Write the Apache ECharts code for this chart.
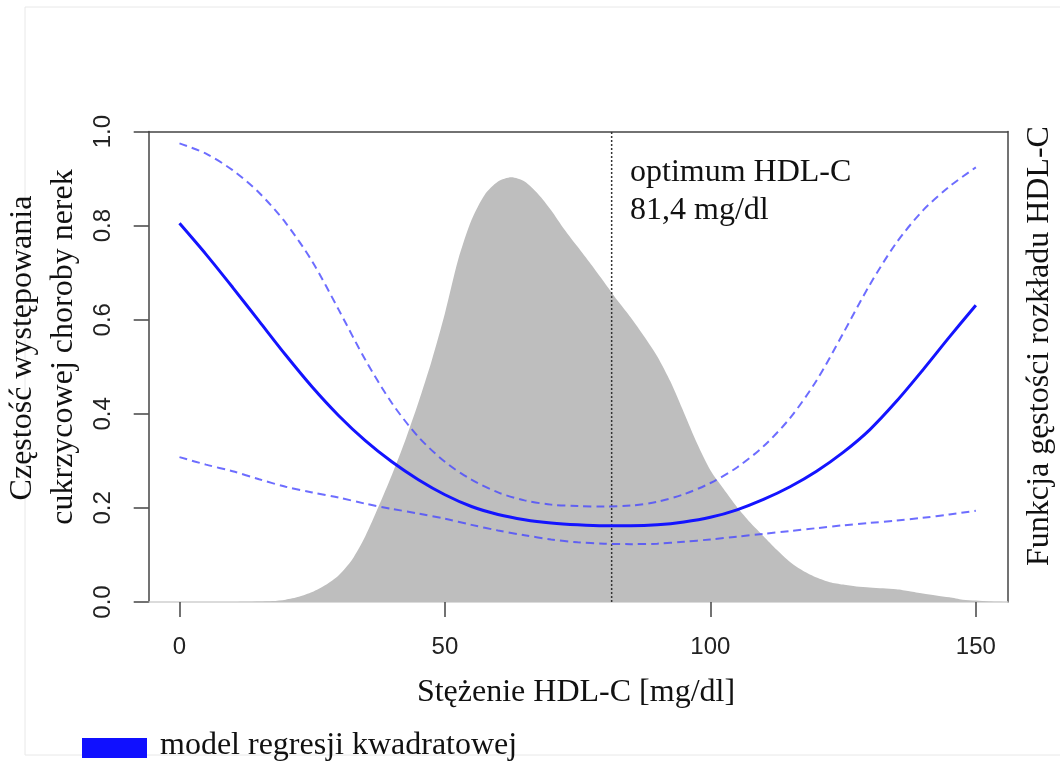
<!DOCTYPE html>
<html>
<head>
<meta charset="utf-8">
<script src="https://cdn.jsdelivr.net/npm/echarts@6/dist/echarts.min.js"></script>
<style>html,body{margin:0;padding:0;background:#fff}#c{width:1060px;height:767px}</style>
</head>
<body>
<div id="c"></div>
<script>
// ---- data ----
const xTicks = [0, 50, 100, 150];
const yTicks = [0, 0.2, 0.4, 0.6, 0.8, 1.0];

const fitX = [0,5,10,15,20,25,30,35,40,45,50,55,60,65,70,75,80,85,90,95,100,105,110,115,120,125,130,135,140,145,150];
const fitY = [0.805,0.739,0.669,0.597,0.525,0.457,0.396,0.343,0.298,0.260,0.228,0.203,0.186,0.175,0.168,0.164,0.162,0.162,0.164,0.170,0.180,0.196,0.218,0.245,0.278,0.318,0.366,0.426,0.493,0.563,0.631];
const upperY = [0.975,0.953,0.918,0.870,0.806,0.724,0.621,0.515,0.423,0.351,0.298,0.260,0.233,0.216,0.207,0.204,0.203,0.205,0.213,0.229,0.253,0.286,0.331,0.391,0.471,0.571,0.674,0.763,0.832,0.883,0.924];
const lowerY = [0.308,0.292,0.278,0.261,0.245,0.233,0.222,0.209,0.198,0.188,0.177,0.164,0.152,0.142,0.133,0.127,0.124,0.123,0.124,0.128,0.133,0.139,0.145,0.151,0.157,0.163,0.168,0.173,0.179,0.186,0.194];

const densX = [10,12.5,15,17.5,20,22.5,25,27.5,30,32.5,35,37.5,40,42.5,45,47.5,50,52.5,55,57.5,60,62.5,65,67.5,70,72.5,75,77.5,80,82.5,85,87.5,90,92.5,95,97.5,100,102.5,105,107.5,110,112.5,115,117.5,120,122.5,125,127.5,130,132.5,135,137.5,140,142.5,145,147.5,150,152.5,156];
const densY = [0,0.0005,0.001,0.002,0.005,0.011,0.021,0.036,0.057,0.090,0.140,0.203,0.270,0.343,0.424,0.513,0.614,0.728,0.812,0.866,0.894,0.903,0.894,0.868,0.833,0.792,0.755,0.718,0.680,0.641,0.605,0.565,0.522,0.468,0.403,0.337,0.280,0.240,0.202,0.169,0.140,0.111,0.085,0.066,0.052,0.042,0.037,0.033,0.031,0.029,0.027,0.023,0.018,0.014,0.010,0.005,0.003,0.001,0];

const optimumX = 81.4;
const optimumLabel = ['optimum HDL-C', '81,4 mg/dl'];
const xTitle = 'Stężenie HDL-C [mg/dl]';
const yTitleLines = ['Częstość występowania', 'cukrzycowej choroby nerek'];
const y2Title = 'Funkcja gęstości rozkładu HDL-C';
const legendLabel = 'model regresji kwadratowej';

const pairs = (xs, ys) => xs.map((x, i) => [x, ys[i]]);

const SERIF = '"Liberation Serif", "Times New Roman", serif';
const SANS = '"Liberation Sans", Arial, sans-serif';

const chart = echarts.init(document.getElementById('c'), null, {renderer: 'canvas'});
const gridL = 148.7, gridR = 1060 - 1007.7, gridT = 131.6, gridB = 767 - 602;

function txt(x, y, text, rot, align) {
  return {
    type: 'text', x: x, y: y, rotation: rot || 0, silent: true,
    style: { text: text, font: '32px ' + SERIF, fill: '#111',
             align: align || 'center', verticalAlign: 'middle',
             textAlign: align || 'center', textVerticalAlign: 'middle' }
  };
}

const dashColor = 'rgba(72,72,255,0.8)';

chart.setOption({
  animation: false,
  backgroundColor: '#fff',
  grid: { left: gridL, right: gridR, top: gridT, bottom: gridB, containLabel: false },
  xAxis: [{
    type: 'value', min: -5.8, max: 156, position: 'bottom',
    axisLine: { show: true, onZero: false, lineStyle: { color: '#cfcfcf', width: 1.5 } },
    axisTick: { show: true, length: 15, customValues: xTicks, lineStyle: { color: '#444', width: 1.5 } },
    axisLabel: { show: true, customValues: xTicks, margin: 33, fontFamily: SANS, fontSize: 24, color: '#222' },
    splitLine: { show: false }
  }, {
    type: 'value', min: -5.8, max: 156, position: 'top',
    axisLine: { show: true, onZero: false, lineStyle: { color: '#444', width: 1.5 } },
    axisTick: { show: false }, axisLabel: { show: false }, splitLine: { show: false }
  }],
  yAxis: [{
    type: 'value', min: 0, max: 1, interval: 0.2, position: 'left',
    axisLine: { show: true, onZero: false, lineStyle: { color: '#444', width: 1.5 } },
    axisTick: { show: true, length: 15, lineStyle: { color: '#444', width: 1.5 } },
    axisLabel: { show: true, rotate: 90, margin: 33, fontFamily: SANS, fontSize: 24, color: '#222',
                 formatter: v => v.toFixed(1) },
    splitLine: { show: false }
  }, {
    type: 'value', min: 0, max: 1, position: 'right',
    axisLine: { show: true, onZero: false, lineStyle: { color: '#444', width: 1.5 } },
    axisTick: { show: false }, axisLabel: { show: false }, splitLine: { show: false }
  }],
  series: [{
    type: 'line', name: 'density', data: pairs(densX, densY), smooth: 0.25, symbol: 'none',
    lineStyle: { width: 0, color: '#bebebe' }, areaStyle: { color: '#bebebe', opacity: 1 }, z: 1
  }, {
    type: 'line', name: 'optimum', data: [[optimumX, 0], [optimumX, 1]], symbol: 'none',
    lineStyle: { color: '#333', width: 1.5, type: [2, 2] }, z: 3
  }, {
    type: 'line', name: 'upper', data: pairs(fitX, upperY), smooth: 0.3, symbol: 'none',
    lineStyle: { color: dashColor, width: 2, type: [8, 5] }, z: 4
  }, {
    type: 'line', name: 'lower', data: pairs(fitX, lowerY), smooth: 0.3, symbol: 'none',
    lineStyle: { color: dashColor, width: 2, type: [8, 5] }, z: 4
  }, {
    type: 'line', name: 'fit', data: pairs(fitX, fitY), smooth: 0.3, symbol: 'none',
    lineStyle: { color: '#1414ff', width: 3 }, z: 5
  }],
  graphic: [
    { type: 'rect', silent: true, z: -10, shape: { x: 25, y: 7, width: 1050, height: 748 },
      style: { fill: 'none', stroke: '#e8e8e8', lineWidth: 1 } },
    txt(630, 173, optimumLabel[0], 0, 'left'),
    txt(630, 211, optimumLabel[1], 0, 'left'),
    txt(576, 693, xTitle, 0),
    txt(23, 348, yTitleLines[0], Math.PI / 2),
    txt(64, 347, yTitleLines[1], Math.PI / 2),
    txt(1040, 346, y2Title, Math.PI / 2),
    { type: 'rect', silent: true, shape: { x: 82, y: 738, width: 65, height: 20 }, style: { fill: '#1010ff' } },
    txt(160, 746, legendLabel, 0, 'left')
  ]
});
</script>
</body>
</html>
